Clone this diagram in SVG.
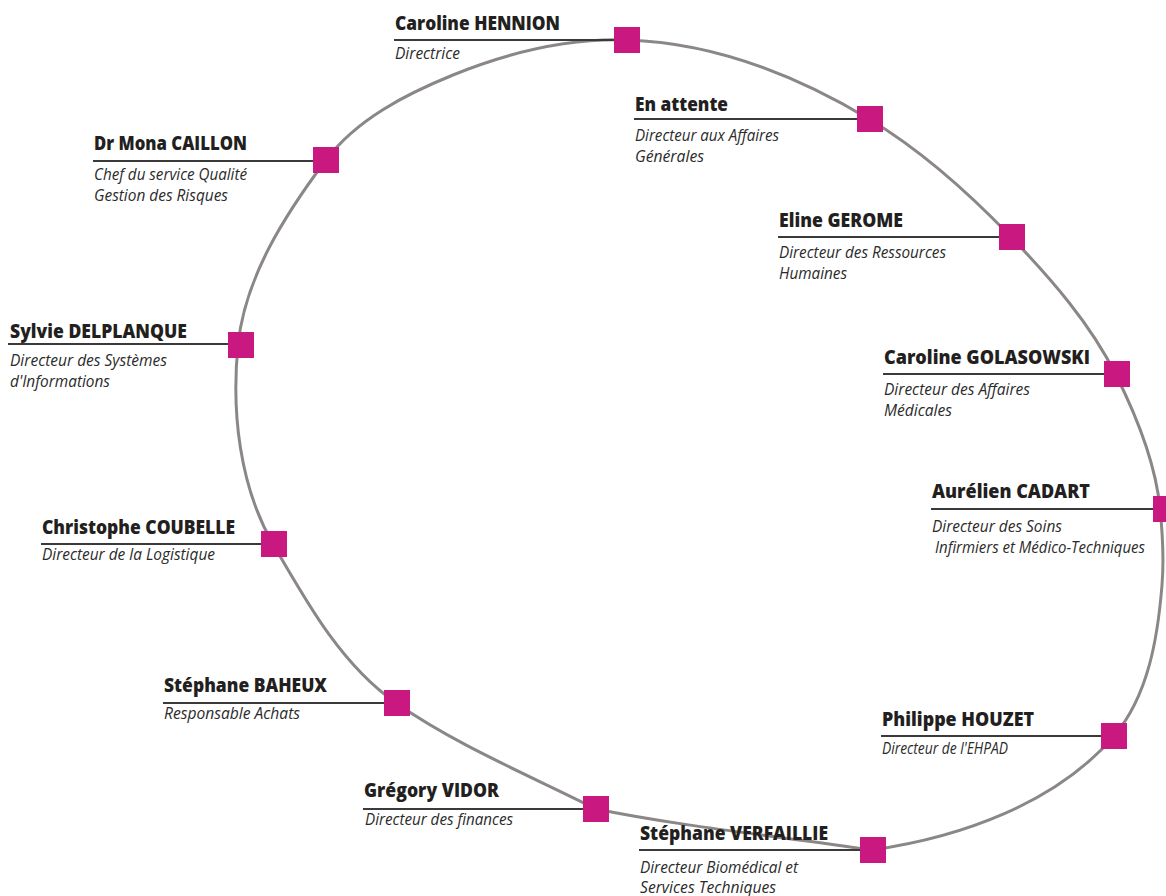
<svg xmlns="http://www.w3.org/2000/svg" width="1166" height="896" viewBox="0 0 1166 896">
<style>
.bg{fill:#ffffff}
.ring{fill:none;stroke:#8c8787;stroke-width:3}
.rule{stroke:#3a3a3a;stroke-width:2}
.sq{fill:#c9187f}
.nm{font-family:"Open Sans","Liberation Sans",sans-serif;font-weight:800;font-size:19.5px;fill:#231f20}
.tt{font-family:"Open Sans","Liberation Sans",sans-serif;font-style:italic;font-size:16px;fill:#2b2b2b}
</style>
<rect class="bg" x="0" y="0" width="1166" height="896"/>
<g id="connectors">
<path class="ring" d="M627,40 C712,42.6 796.2,75.3 869,119 C921.7,150.6 968.6,192.7 1011,237 C1050.9,278.6 1090.2,323.3 1116,375 C1136.9,416.7 1155.3,461.5 1160,508 C1162.6,533.6 1164.1,559.4 1162,585 C1157.8,637.6 1148.3,695.9 1114,736 C1056.1,803.6 960.1,837.5 872,850 C783,836.7 684.2,827 596,809 C529.2,775.2 457.5,745.8 396,703 C341.1,664.8 306.5,602 273,544 C239.5,486 231.3,411.7 238,345 C244.8,277.3 285.2,214.4 326,160 C356.6,119.2 405.8,94.2 453,75 C507.6,52.8 568,38.2 627,40 Z"/>
</g>
<g id="hennion">
<line class="rule" x1="394" y1="40" x2="614" y2="40"/>
<rect class="sq" x="614" y="27" width="26" height="26"/>
<text class="nm" x="395" y="30" textLength="165" lengthAdjust="spacingAndGlyphs">Caroline HENNION</text>
<text class="tt" x="395" y="59" textLength="65" lengthAdjust="spacingAndGlyphs">Directrice</text>
</g>
<g id="en-attente">
<line class="rule" x1="634" y1="119" x2="857" y2="119"/>
<rect class="sq" x="857" y="106" width="26" height="26"/>
<text class="nm" x="635" y="111" textLength="93" lengthAdjust="spacingAndGlyphs">En attente</text>
<text class="tt" x="635" y="141" textLength="144" lengthAdjust="spacingAndGlyphs">Directeur aux Affaires</text>
<text class="tt" x="635" y="162" textLength="69" lengthAdjust="spacingAndGlyphs">Générales</text>
</g>
<g id="gerome">
<line class="rule" x1="778" y1="237" x2="999" y2="237"/>
<rect class="sq" x="999" y="224" width="26" height="26"/>
<text class="nm" x="779" y="227" textLength="124" lengthAdjust="spacingAndGlyphs">Eline GEROME</text>
<text class="tt" x="779" y="258" textLength="167" lengthAdjust="spacingAndGlyphs">Directeur des Ressources</text>
<text class="tt" x="779" y="279" textLength="68" lengthAdjust="spacingAndGlyphs">Humaines</text>
</g>
<g id="golasowski">
<line class="rule" x1="883" y1="374" x2="1105" y2="374"/>
<rect class="sq" x="1104" y="361" width="26" height="26"/>
<text class="nm" x="884" y="364" textLength="206" lengthAdjust="spacingAndGlyphs">Caroline GOLASOWSKI</text>
<text class="tt" x="884" y="395" textLength="146" lengthAdjust="spacingAndGlyphs">Directeur des Affaires</text>
<text class="tt" x="884" y="416" textLength="68" lengthAdjust="spacingAndGlyphs">Médicales</text>
</g>
<g id="cadart">
<line class="rule" x1="931" y1="509" x2="1153" y2="509"/>
<rect class="sq" x="1153" y="496" width="26" height="26"/>
<text class="nm" x="932" y="498" textLength="158" lengthAdjust="spacingAndGlyphs">Aurélien CADART</text>
<text class="tt" x="932" y="532" textLength="130" lengthAdjust="spacingAndGlyphs">Directeur des Soins</text>
<text class="tt" x="935" y="553" textLength="210" lengthAdjust="spacingAndGlyphs">Infirmiers et Médico-Techniques</text>
</g>
<g id="houzet">
<line class="rule" x1="881" y1="736" x2="1102" y2="736"/>
<rect class="sq" x="1101" y="723" width="26" height="26"/>
<text class="nm" x="882" y="726" textLength="152" lengthAdjust="spacingAndGlyphs">Philippe HOUZET</text>
<text class="tt" x="882" y="754" textLength="126" lengthAdjust="spacingAndGlyphs">Directeur de l'EHPAD</text>
</g>
<g id="verfaillie">
<line class="rule" x1="639" y1="850" x2="860" y2="850"/>
<rect class="sq" x="860" y="837" width="26" height="26"/>
<text class="nm" x="640" y="840" textLength="188" lengthAdjust="spacingAndGlyphs">Stéphane VERFAILLIE</text>
<text class="tt" x="640" y="873" textLength="158" lengthAdjust="spacingAndGlyphs">Directeur Biomédical et</text>
<text class="tt" x="640" y="893" textLength="136" lengthAdjust="spacingAndGlyphs">Services Techniques</text>
</g>
<g id="vidor">
<line class="rule" x1="363" y1="809" x2="583" y2="809"/>
<rect class="sq" x="583" y="796" width="26" height="26"/>
<text class="nm" x="364" y="797" textLength="135" lengthAdjust="spacingAndGlyphs">Grégory VIDOR</text>
<text class="tt" x="365" y="825" textLength="148" lengthAdjust="spacingAndGlyphs">Directeur des finances</text>
</g>
<g id="baheux">
<line class="rule" x1="163" y1="703" x2="384" y2="703"/>
<rect class="sq" x="384" y="690" width="26" height="26"/>
<text class="nm" x="164" y="692" textLength="163" lengthAdjust="spacingAndGlyphs">Stéphane BAHEUX</text>
<text class="tt" x="164" y="719" textLength="136" lengthAdjust="spacingAndGlyphs">Responsable Achats</text>
</g>
<g id="coubelle">
<line class="rule" x1="41" y1="544" x2="261" y2="544"/>
<rect class="sq" x="261" y="531" width="26" height="26"/>
<text class="nm" x="42" y="534" textLength="193" lengthAdjust="spacingAndGlyphs">Christophe COUBELLE</text>
<text class="tt" x="42" y="560" textLength="173" lengthAdjust="spacingAndGlyphs">Directeur de la Logistique</text>
</g>
<g id="delplanque">
<line class="rule" x1="8" y1="344" x2="228" y2="344"/>
<rect class="sq" x="228" y="332" width="26" height="26"/>
<text class="nm" x="10" y="338" textLength="177" lengthAdjust="spacingAndGlyphs">Sylvie DELPLANQUE</text>
<text class="tt" x="10" y="366" textLength="157" lengthAdjust="spacingAndGlyphs">Directeur des Systèmes</text>
<text class="tt" x="10" y="387" textLength="100" lengthAdjust="spacingAndGlyphs">d'Informations</text>
</g>
<g id="caillon">
<line class="rule" x1="93" y1="161" x2="313" y2="161"/>
<rect class="sq" x="313" y="147" width="26" height="26"/>
<text class="nm" x="94" y="150" textLength="153" lengthAdjust="spacingAndGlyphs">Dr Mona CAILLON</text>
<text class="tt" x="94" y="180" textLength="153" lengthAdjust="spacingAndGlyphs">Chef du service Qualité</text>
<text class="tt" x="94" y="201" textLength="134" lengthAdjust="spacingAndGlyphs">Gestion des Risques</text>
</g>
</svg>
